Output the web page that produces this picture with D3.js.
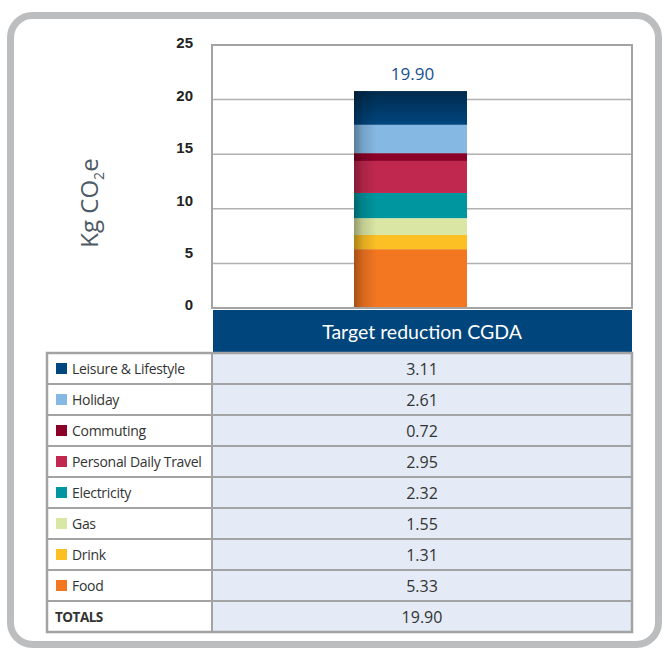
<!DOCTYPE html>
<html><head><meta charset="utf-8">
<script src="https://cdn.jsdelivr.net/npm/d3@7"></script>
<style>
html,body{margin:0;padding:0;background:#fff;}
svg{display:block;}
</style></head>
<body>
<script>
// ---- data ----
const categories = ["Food","Drink","Gas","Electricity","Personal Daily Travel","Commuting","Holiday","Leisure & Lifestyle"];
const values = [5.33,1.31,1.55,2.32,2.95,0.72,2.61,3.11];
const colors = ["#f37621","#fcc025","#dae6a4","#0096a0","#c1284f","#8b0029","#85b8e3","#00467f"];
const seriesName = "Target reduction CGDA";
const totalValue = 19.90;
const yTicks = [0,5,10,15,20,25];
const totalLabel = "TOTALS";

const W = 665, H = 651;
const svg = d3.select("body").append("svg").attr("width",W).attr("height",H);
const defs = svg.append("defs");

// outer rounded frame
svg.append("rect").attr("x",10.5).attr("y",15.5).attr("width",648).attr("height",629)
  .attr("rx",22).attr("fill","#fff").attr("stroke","#bcbdbf").attr("stroke-width",7);

const plotL = 212, plotR = 632, plotT = 45, plotB = 308;
const yBar = d3.scaleLinear().domain([0,25]).range([307, 307-25*10.85]);
const yGrid = d3.scaleLinear().domain([0,25]).range([318, 45]);
const yLab = d3.scaleLinear().domain([0,25]).range([305, 43]);
const x = d3.scaleBand().domain([seriesName]).range([plotL, plotR]).paddingInner(0).paddingOuter(0);

// gridlines
svg.append("g").selectAll("line").data(yTicks.filter(t=>t>0 && t<25)).join("line")
  .attr("x1",plotL).attr("x2",plotR).attr("y1",d=>yGrid(d)).attr("y2",d=>yGrid(d))
  .attr("stroke","#b0b0b0").attr("stroke-width",1.5);

// plot border
svg.append("rect").attr("x",plotL).attr("y",plotT).attr("width",plotR-plotL).attr("height",plotB-plotT)
  .attr("fill","none").attr("stroke","#a3a3a3").attr("stroke-width",2);

// tick labels
const axis = d3.axisLeft(yLab).tickValues(yTicks).tickSize(0).tickPadding(0);
const ag = svg.append("g").attr("transform","translate(193,0)").call(axis);
ag.select(".domain").remove();
ag.selectAll("text").attr("font-family","'Liberation Sans',Arial,sans-serif").attr("font-weight","bold")
  .attr("font-size",15).attr("fill","#222");

// y title
const yt = svg.append("text").attr("transform","translate(98,203) rotate(-90)")
  .attr("text-anchor","middle").attr("font-family","'Open Sans',sans-serif").attr("font-size",24).attr("fill","#4d5a66");
yt.append("tspan").text("Kg CO");
yt.append("tspan").attr("font-size",14).attr("dy",6).text("2");
yt.append("tspan").attr("dy",-6).text("e");

// gradients
const shade = defs.append("linearGradient").attr("id","shade").attr("x1","0").attr("x2","1").attr("y1","0").attr("y2","0");
shade.append("stop").attr("offset","0").attr("stop-color","#000").attr("stop-opacity",0.32);
shade.append("stop").attr("offset","0.08").attr("stop-color","#000").attr("stop-opacity",0.12);
shade.append("stop").attr("offset","0.2").attr("stop-color","#000").attr("stop-opacity",0);
const topG = defs.append("linearGradient").attr("id","topg").attr("x1","0").attr("x2","0").attr("y1","0").attr("y2","1");
topG.append("stop").attr("offset","0").attr("stop-color","#000").attr("stop-opacity",0.4);
topG.append("stop").attr("offset","1").attr("stop-color","#000").attr("stop-opacity",0);

// stacked bar
const barX = 354, barW = 113;
let cum = 0;
const segs = values.map((v,i)=>{const s={v, c:colors[i], y0:cum, y1:cum+v, name:categories[i]}; cum+=v; return s;});
const bg = svg.append("g");
bg.selectAll("rect.seg").data(segs).join("rect").attr("class","seg")
  .attr("x",barX).attr("width",barW)
  .attr("y",d=>yBar(d.y1)).attr("height",d=>yBar(d.y0)-yBar(d.y1)).attr("fill",d=>d.c);
const last = segs[segs.length-1];
bg.append("rect").attr("x",barX).attr("width",barW).attr("y",yBar(last.y1)).attr("height",yBar(last.y0)-yBar(last.y1))
  .attr("fill","url(#topg)");
bg.append("rect").attr("x",barX).attr("width",barW).attr("y",yBar(cum)).attr("height",yBar(0)-yBar(cum))
  .attr("fill","url(#shade)");

// total label
svg.append("text").attr("x",barX+barW/2+2).attr("y",yBar(cum)-11).attr("text-anchor","middle")
  .attr("font-family","'Open Sans',sans-serif").attr("font-size",17).attr("fill","#17508d").text(totalValue.toFixed(2));

// header
svg.append("rect").attr("x",x(seriesName)+1).attr("y",310).attr("width",x.bandwidth()-1).attr("height",43).attr("fill","#00457c");
svg.append("text").attr("x",x(seriesName)+x.bandwidth()/2).attr("y",339).attr("text-anchor","middle")
  .attr("font-family","Lato,sans-serif").attr("font-size",19.5).attr("fill","#fff").text(seriesName);

// table
const tL = 47, tR = 632, tT = 353, rowH = 31;
const rows = categories.map((c,i)=>({name:c, v:values[i], c:colors[i]})).reverse();
rows.push({name:totalLabel, v:totalValue, c:null, total:true});
const tg = svg.append("g");
tg.append("rect").attr("x",plotL).attr("y",tT).attr("width",tR-plotL).attr("height",rowH*rows.length).attr("fill","#e4ebf6");
const rg = tg.selectAll("g.row").data(rows).join("g").attr("class","row")
  .attr("transform",(d,i)=>`translate(0,${tT+i*rowH})`);
rg.filter(d=>d.c).append("rect").attr("x",56).attr("y",rowH/2-5.5).attr("width",11).attr("height",11).attr("fill",d=>d.c);
rg.append("text").attr("x",d=>d.total?55:72).attr("y",rowH/2+5)
  .attr("font-family","'Open Sans',sans-serif").attr("font-size",d=>d.total?13.5:14)
  .attr("font-weight",d=>d.total?"bold":"normal").attr("letter-spacing",d=>d.total?-0.5:-0.3)
  .attr("fill","#333").text(d=>d.name);
rg.append("text").attr("x",(plotL+tR)/2).attr("y",rowH/2+6).attr("text-anchor","middle")
  .attr("font-family","'Open Sans',sans-serif").attr("font-size",16).attr("fill","#333").text(d=>d.v.toFixed(2));
// grid lines
tg.selectAll("line.h").data(d3.range(1,rows.length)).join("line").attr("class","h")
  .attr("x1",tL).attr("x2",tR).attr("y1",d=>tT+d*rowH).attr("y2",d=>tT+d*rowH)
  .attr("stroke","#a3a3a3").attr("stroke-width",2);
tg.append("line").attr("x1",plotL).attr("x2",plotL).attr("y1",tT).attr("y2",tT+rowH*rows.length)
  .attr("stroke","#a3a3a3").attr("stroke-width",2);
tg.append("rect").attr("x",tL).attr("y",tT).attr("width",tR-tL).attr("height",rowH*rows.length)
  .attr("fill","none").attr("stroke","#a3a3a3").attr("stroke-width",2.5);
</script>
</body></html>
